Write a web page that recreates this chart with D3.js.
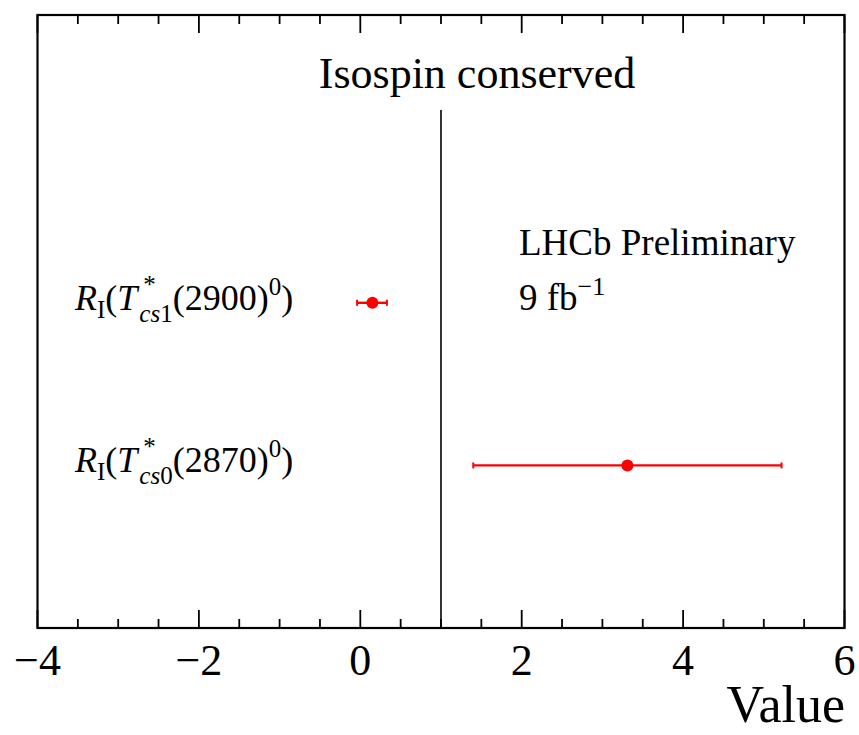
<!DOCTYPE html>
<html><head><meta charset="utf-8">
<script src="https://cdn.jsdelivr.net/npm/d3@7"></script>
<style>html,body{margin:0;padding:0;background:#fff;}svg{display:block;}</style>
</head><body>
<script>
// Data
const labels = ["Tcs1_2900", "Tcs0_2870"];
const positions = [2, 1];
const values = [0.15, 3.31];
const errLow = [0.19, 1.91];
const errHigh = [0.18, 1.91];
const xTicks = [-4, -2, 0, 2, 4, 6];
const refLine = 1;
const xDomain = [-4, 6];
const yDomain = [0, 3.77];

const FONT = "'Liberation Serif', 'Times New Roman', Times, 'DejaVu Serif', serif";
const W = 859, H = 735;
const m = {left: 37.5, right: 859 - 844.5, top: 15, bottom: 735 - 628};
const svg = d3.select("body").append("svg").attr("width", W).attr("height", H)
  .attr("font-family", FONT).style("font-family", FONT);

const x = d3.scaleLinear().domain(xDomain).range([m.left, W - m.right]);
const y = d3.scaleLinear().domain(yDomain).range([H - m.bottom, m.top]);

// reference vertical line
svg.append("line").attr("x1", x(refLine)).attr("x2", x(refLine))
  .attr("y1", 110).attr("y2", y(0)).attr("stroke", "#000").attr("stroke-width", 1.6);

// inward ticks
const minor = d3.range(-4, 6.01, 0.5);
const isMajor = d => Math.abs(d % 2) < 1e-9;
const gB = svg.append("g").attr("transform", `translate(0,${y(0)})`);
gB.selectAll("line").data(minor).enter().append("line")
  .attr("x1", d => x(d)).attr("x2", d => x(d))
  .attr("y1", 0).attr("y2", d => isMajor(d) ? -18 : -9)
  .attr("stroke", "#000").attr("stroke-width", 1.8);
const gT = svg.append("g").attr("transform", `translate(0,${y(yDomain[1])})`);
gT.selectAll("line").data(minor).enter().append("line")
  .attr("x1", d => x(d)).attr("x2", d => x(d))
  .attr("y1", 0).attr("y2", d => isMajor(d) ? 18 : 9)
  .attr("stroke", "#000").attr("stroke-width", 1.8);

// tick labels
const fmt = d => d < 0 ? "\u2212" + Math.abs(d) : String(d);
svg.append("g").selectAll("text").data(xTicks).enter().append("text")
  .attr("x", d => x(d)).attr("y", 675).attr("text-anchor", "middle")
  .attr("font-size", 44).text(fmt);

// frame
svg.append("rect").attr("x", x(xDomain[0])).attr("y", y(yDomain[1]))
  .attr("width", x(xDomain[1]) - x(xDomain[0])).attr("height", y(0) - y(yDomain[1]))
  .attr("fill", "none").attr("stroke", "#000").attr("stroke-width", 2.2);

// axis title
svg.append("text").attr("x", 845).attr("y", 722).attr("text-anchor", "end")
  .attr("font-size", 52).text("Value");

// plot title
svg.append("text").attr("x", 477).attr("y", 88).attr("text-anchor", "middle")
  .attr("font-size", 44).text("Isospin conserved");

// LHCb text
svg.append("text").attr("x", 519).attr("y", 255).attr("font-size", 37).text("LHCb Preliminary");
const lumi = svg.append("text").attr("x", 519).attr("y", 310).attr("font-size", 37);
lumi.append("tspan").text("9 fb");
lumi.append("tspan").attr("font-size", 26).attr("dy", -15).text("\u22121");

// category labels
const labelParts = [
  {sub: "cs", subNum: "1", mass: "2900"},
  {sub: "cs", subNum: "0", mass: "2870"}
];
labelParts.forEach((p, i) => {
  const by = y(positions[i]) + 7;
  const g = svg.append("g").attr("class", "lab");
  const t = g.append("text").attr("x", 75).attr("y", by).attr("font-size", 36);
  t.append("tspan").attr("font-style", "italic").text("R");
  t.append("tspan").attr("font-size", 25).attr("dy", 8).text("I");
  t.append("tspan").attr("dy", -8).text("(");
  t.append("tspan").attr("font-style", "italic").text("T");
  t.append("tspan").attr("font-size", 25).attr("font-style", "italic").attr("dy", 12).attr("dx", 2).text(p.sub);
  t.append("tspan").attr("font-size", 25).text(p.subNum);
  t.append("tspan").attr("dy", -12).text("(" + p.mass + ")");
  t.append("tspan").attr("font-size", 25).attr("dy", -15).text("0");
  t.append("tspan").attr("dy", 15).text(")");
  const star = g.append("text").attr("y", by - 17).attr("font-size", 25).text("*");
  const bb = t.selectAll("tspan").nodes()[4].getBBox();
  star.attr("x", bb.x + 4);
});

// error bars
const pts = values.map((v, i) => ({v, lo: v - errLow[i], hi: v + errHigh[i], p: positions[i]}));
const gE = svg.append("g");
gE.selectAll("line.err").data(pts).enter().append("line").attr("class", "err")
  .attr("x1", d => x(d.lo)).attr("x2", d => x(d.hi))
  .attr("y1", d => y(d.p)).attr("y2", d => y(d.p))
  .attr("stroke", "#ff0000").attr("stroke-width", 2.4);
gE.selectAll("line.capL").data(pts).enter().append("line").attr("class", "capL")
  .attr("x1", d => x(d.lo)).attr("x2", d => x(d.lo))
  .attr("y1", d => y(d.p) - 3).attr("y2", d => y(d.p) + 3)
  .attr("stroke", "#ff0000").attr("stroke-width", 2);
gE.selectAll("line.capR").data(pts).enter().append("line").attr("class", "capR")
  .attr("x1", d => x(d.hi)).attr("x2", d => x(d.hi))
  .attr("y1", d => y(d.p) - 3).attr("y2", d => y(d.p) + 3)
  .attr("stroke", "#ff0000").attr("stroke-width", 2);
gE.selectAll("circle").data(pts).enter().append("circle")
  .attr("cx", d => x(d.v)).attr("cy", d => y(d.p)).attr("r", 6)
  .attr("fill", "#ff0000");
</script>
</body></html>
